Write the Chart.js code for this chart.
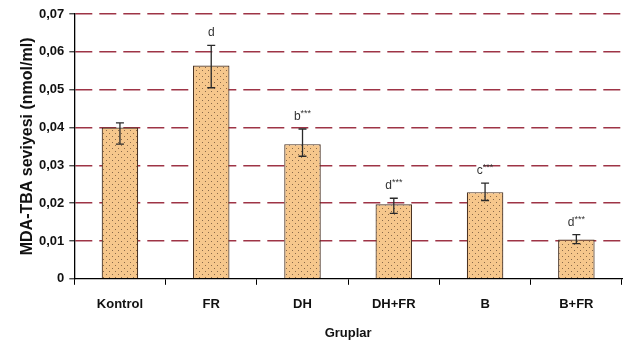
<!DOCTYPE html>
<html>
<head>
<meta charset="utf-8">
<script src="https://cdn.jsdelivr.net/npm/chart.js@4/dist/chart.umd.min.js"></script>
<style>
  html, body { margin: 0; padding: 0; background: #fff; }
  #wrap { width: 624px; height: 345px; }
</style>
</head>
<body>
<div id="wrap"><canvas id="chart"></canvas></div>
<script>
"use strict";

// ── Data ─────────────────────────────────────────────────────────────────────

const groups   = ["Kontrol", "FR", "DH", "DH+FR", "B", "B+FR"];
const mdaMeans = [0.0400, 0.0564, 0.0356, 0.0197, 0.0229, 0.0104];
const errHigh  = [0.0412, 0.0617, 0.0396, 0.0213, 0.0253, 0.0117];
const errLow   = [0.0356, 0.0505, 0.0324, 0.0173, 0.0207, 0.0093];
const sigLetters = ["", "d", "b", "d", "c", "d"];
const sigStars   = ["", "", "***", "***", "***", "***"];

// ── Dotted bar fill ──────────────────────────────────────────────────────────

function dotPattern() {
  const c = document.createElement("canvas");
  c.width = 6; c.height = 6;
  const g = c.getContext("2d");
  g.fillStyle = "#f6c78c";
  g.fillRect(0, 0, 6, 6);
  g.fillStyle = "#8a6a4a";
  g.fillRect(1, 1, 1, 1);
  g.fillRect(4, 4, 1, 1);
  return g.createPattern(c, "repeat");
}

// ── Error bars + significance letters ────────────────────────────────────────

const errorBars = {
  id: "errorBars",
  afterDatasetsDraw(chart) {
    const { ctx, scales: { x, y } } = chart;
    ctx.save();
    ctx.strokeStyle = "#2a2a2a";
    ctx.lineWidth = 1.3;
    groups.forEach((g, i) => {
      const cx = x.getPixelForValue(i);
      const top = y.getPixelForValue(errHigh[i]);
      const bot = y.getPixelForValue(errLow[i]);
      ctx.beginPath();
      ctx.moveTo(cx, top); ctx.lineTo(cx, bot);
      ctx.moveTo(cx - 4, top); ctx.lineTo(cx + 4, top);
      ctx.moveTo(cx - 4, bot); ctx.lineTo(cx + 4, bot);
      ctx.stroke();

      if (!sigLetters[i]) return;
      const ly = top - 9;
      ctx.fillStyle = "#333";
      ctx.textBaseline = "alphabetic";
      ctx.font = "12px 'Liberation Sans', Arial, sans-serif";
      const lw = ctx.measureText(sigLetters[i]).width;
      ctx.font = "9px 'Liberation Sans', Arial, sans-serif";
      const sw = ctx.measureText(sigStars[i]).width;
      const x0 = cx - (lw + sw) / 2;
      ctx.font = "12px 'Liberation Sans', Arial, sans-serif";
      ctx.textAlign = "left";
      ctx.fillText(sigLetters[i], x0, ly);
      ctx.font = "9px 'Liberation Sans', Arial, sans-serif";
      ctx.fillText(sigStars[i], x0 + lw, ly - 4);
    });
    ctx.restore();
  },
};

// ── Chart ────────────────────────────────────────────────────────────────────

const fmtTick = (v) => (Math.abs(v) < 1e-9 ? "0" : v.toFixed(2).replace(".", ","));
const boldFont = { family: "'Liberation Sans', Arial, sans-serif", size: 13, weight: "bold" };

new Chart(document.getElementById("chart"), {
  type: "bar",
  data: {
    labels: groups,
    datasets: [{
      data: mdaMeans,
      backgroundColor: dotPattern(),
      borderColor: "#4a3323",
      borderWidth: 1.2,
      barPercentage: 0.4,
      categoryPercentage: 1,
    }],
  },
  options: {
    responsive: true,
    maintainAspectRatio: false,
    animation: false,
    layout: { padding: { top: 14, right: 2, left: 20, bottom: 4 } },
    plugins: {
      legend: { display: false },
      tooltip: { enabled: false },
    },
    scales: {
      x: {
        grid: {
          offset: true,
          drawOnChartArea: false,
          color: "#000",
          tickLength: 6,
          lineWidth: 1,
        },
        border: { color: "#000", width: 1.3 },
        ticks: { color: "#111", font: boldFont, padding: 12 },
        title: {
          display: true,
          text: "Gruplar",
          color: "#111",
          font: boldFont,
          padding: { top: 1, bottom: 0 },
        },
      },
      y: {
        min: 0,
        max: 0.07,
        ticks: {
          stepSize: 0.01,
          color: "#111",
          font: boldFont,
          padding: 5,
          callback: fmtTick,
        },
        grid: {
          color: (c) => (c.tick && Math.abs(c.tick.value) < 1e-9 ? "rgba(0,0,0,0)" : "#9e3446"),
          lineWidth: 1.6,
          tickColor: "#000",
          tickLength: 5,
          tickWidth: 1,
        },
        border: { color: "#000", width: 1.3, dash: [17, 7] },
        title: {
          display: true,
          text: "MDA-TBA seviyesi (nmol/ml)",
          color: "#111",
          font: { family: "'Liberation Sans', Arial, sans-serif", size: 16, weight: "bold", lineHeight: 1 },
          padding: { top: 0, bottom: -2 },
        },
      },
    },
  },
  plugins: [errorBars],
});
</script>
</body>
</html>
